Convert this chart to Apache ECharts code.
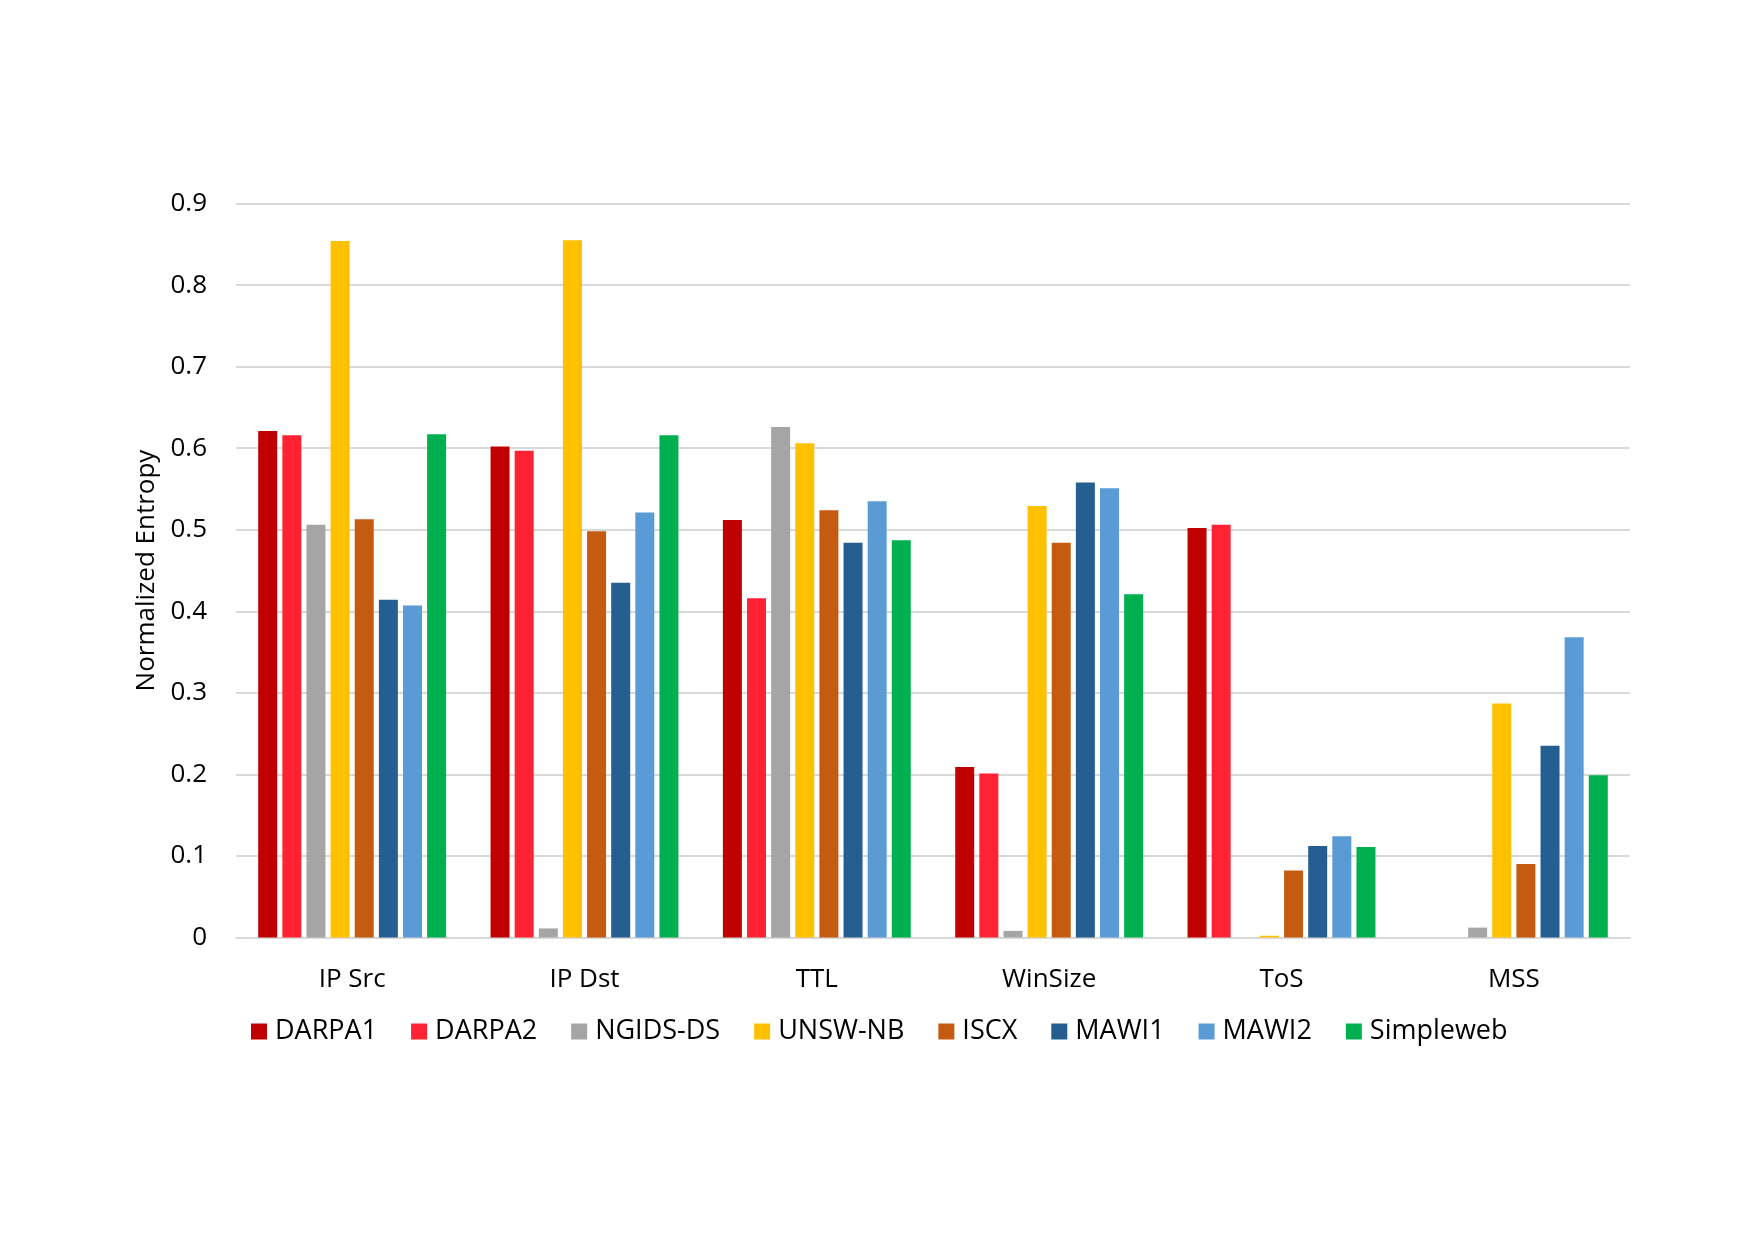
<!DOCTYPE html>
<html>
<head>
<meta charset="utf-8">
<script src="https://cdn.jsdelivr.net/npm/echarts@6/dist/echarts.min.js"></script>
<style>
  html, body { margin: 0; padding: 0; background: #fff; }
  #chart { width: 1754px; height: 1241px; }
</style>
</head>
<body>
<div id="chart"></div>
<script>
// categories on the x axis
var features = ['IP Src', 'IP Dst', 'TTL', 'WinSize', 'ToS', 'MSS']

// one array per dataset, values in the same order as features
var darpa1 = [0.621, 0.602, 0.512, 0.209, 0.502, 0]
var darpa2 = [0.616, 0.597, 0.416, 0.201, 0.506, 0]
var ngids = [0.506, 0.011, 0.626, 0.008, 0, 0.012]
var unswnb = [0.854, 0.855, 0.606, 0.529, 0.002, 0.287]
var iscx = [0.513, 0.498, 0.524, 0.484, 0.082, 0.090]
var mawi1 = [0.414, 0.435, 0.484, 0.558, 0.112, 0.235]
var mawi2 = [0.407, 0.521, 0.535, 0.551, 0.124, 0.368]
var simpleweb = [0.617, 0.616, 0.487, 0.421, 0.111, 0.199]

var yTicks = [0, 0.1, 0.2, 0.3, 0.4, 0.5, 0.6, 0.7, 0.8, 0.9]

var seriesList = [
  { name: 'DARPA1', data: darpa1, color: '#C00000' },
  { name: 'DARPA2', data: darpa2, color: '#FF2233' },
  { name: 'NGIDS-DS', data: ngids, color: '#A5A5A5' },
  { name: 'UNSW-NB', data: unswnb, color: '#FFC000' },
  { name: 'ISCX', data: iscx, color: '#C55A11' },
  { name: 'MAWI1', data: mawi1, color: '#255E91' },
  { name: 'MAWI2', data: mawi2, color: '#5B9BD5' },
  { name: 'Simpleweb', data: simpleweb, color: '#00B050' }
]

var chart = echarts.init(document.getElementById('chart'))
var font = '"Open Sans", sans-serif'

chart.setOption({
  animation: false,
  backgroundColor: '#ffffff',
  grid: {
    left: 236,
    right: 124,
    top: 203.6,
    bottom: 303.6,
    containLabel: false
  },
  legend: {
    left: 246,
    top: 1013,
    itemWidth: 16,
    itemHeight: 16,
    itemGap: 34,
    icon: 'rect',
    textStyle: { fontFamily: font, fontSize: 27, color: '#000', padding: [0, 0, 0, 3] },
    data: seriesList.map(function (s) { return s.name })
  },
  xAxis: {
    type: 'category',
    data: features,
    axisTick: { show: false },
    axisLine: { lineStyle: { color: '#d9d9d9', width: 2 } },
    axisLabel: { fontFamily: font, fontSize: 26, color: '#000', margin: 29 }
  },
  yAxis: {
    type: 'value',
    min: yTicks[0],
    max: yTicks[yTicks.length - 1],
    interval: 0.1,
    name: 'Normalized Entropy',
    nameLocation: 'middle',
    nameGap: 76,
    nameTextStyle: { fontFamily: font, fontSize: 26, color: '#000' },
    axisLine: { show: false },
    axisTick: { show: false },
    splitLine: { lineStyle: { color: '#d9d9d9', width: 2 } },
    axisLabel: {
      fontFamily: font, fontSize: 26, color: '#000', margin: 29,
      formatter: function (v) { return String(Math.round(v * 10) / 10) }
    }
  },
  series: seriesList.map(function (s) {
    return {
      name: s.name,
      type: 'bar',
      data: s.data,
      barWidth: 19,
      barGap: '27%',
      itemStyle: { color: s.color }
    }
  })
})
</script>
</body>
</html>
